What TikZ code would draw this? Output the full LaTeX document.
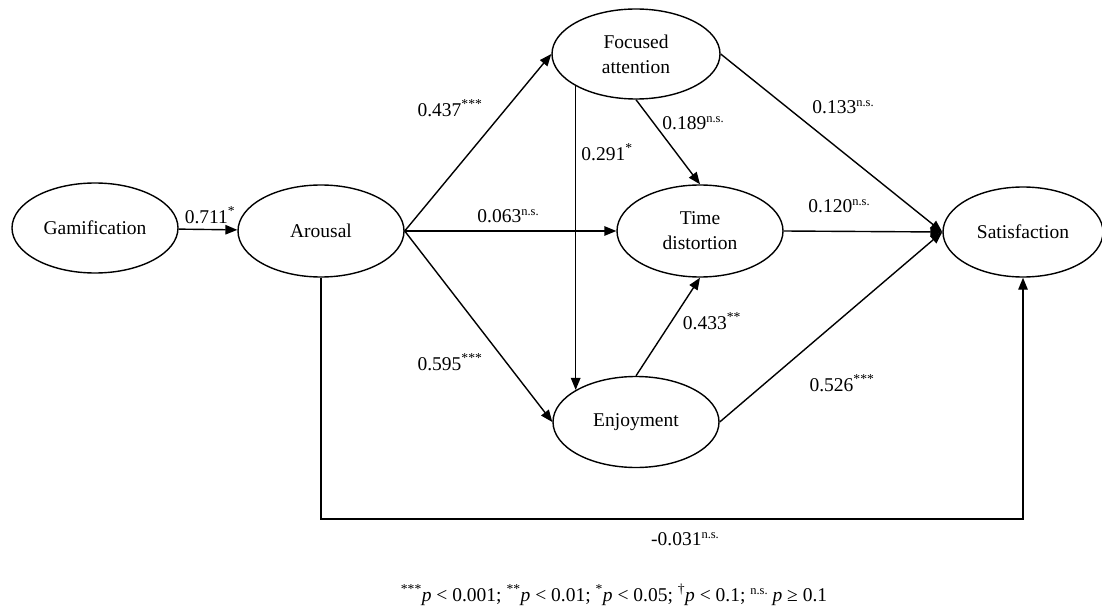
\documentclass[tikz,border=0pt]{standalone}
\usepackage{fontspec}
\setmainfont{Liberation Serif}
\usetikzlibrary{arrows.meta,shapes.geometric}
\newcommand{\nsup}{\raisebox{6.5pt}{\fontsize{12.5}{14}\selectfont n.s.}}
\begin{document}
\begin{tikzpicture}[x=1pt,y=1pt,
  latent/.style={ellipse,draw,line width=1.4pt,inner sep=0pt,align=center,font=\fontsize{19.5}{25}\selectfont},
  pathline/.style={line width=1.4pt,-{Triangle[length=12pt,width=9.5pt]}},
  lab/.style={inner sep=0pt,font=\fontsize{19.5}{24}\selectfont},
  note/.style={inner sep=0pt,anchor=base,font=\fontsize{19.5}{24}\selectfont}]
\useasboundingbox (0,0) rectangle (1102,-612);
\node[latent,minimum width=166,minimum height=90] (gam) at (95,-228) {Gamification};
\node[latent,minimum width=166,minimum height=92] (aro) at (321,-231) {Arousal};
\node[latent,minimum width=168,minimum height=90] (foc) at (636,-54) {Focused\\attention};
\node[latent,minimum width=166,minimum height=92] (tim) at (700,-231) {Time\\distortion};
\node[latent,minimum width=166,minimum height=91] (enj) at (636,-422) {Enjoyment};
\node[latent,minimum width=160,minimum height=90] (sat) at (1023,-232) {Satisfaction};
\coordinate (bot) at (0,-519);

\draw[pathline] (gam) -- (aro);
\draw[pathline] (aro.east) -- (foc.west);
\draw[pathline] (aro.east) -- (tim.west);
\draw[pathline] (aro.east) -- (enj.west);
\draw[pathline] (foc.208.5) -- (foc.208.5 |- enj.152);
\draw[pathline] (foc.south) -- (tim.north);
\draw[pathline] (enj.north) -- (tim.south);
\draw[pathline] (foc.east) -- (sat.west);
\draw[pathline] (tim.east) -- (sat.west);
\draw[pathline] (enj.east) -- (sat.west);
\draw[pathline] (aro.south) -- (aro.south |- bot) -| (sat.south);

\node[lab] (l1) at (210,-215) {0.711\textsuperscript{*}};
\node[lab] (l2) at (450,-108) {0.437\textsuperscript{***}};
\node[lab] (l3) at (607,-152) {0.291\textsuperscript{*}};
\node[lab] (l4) at (693,-123) {0.189\nsup};
\node[lab] (l5) at (843,-107) {0.133\nsup};
\node[lab] (l6) at (508,-216) {0.063\nsup};
\node[lab] (l7) at (839,-206) {0.120\nsup};
\node[lab] (l8) at (712,-321) {0.433\textsuperscript{**}};
\node[lab] (l9) at (450,-362) {0.595\textsuperscript{***}};
\node[lab] (l10) at (842,-383) {0.526\textsuperscript{***}};
\node[lab] (l11) at (685,-539) {-0.031\nsup};
\node[note] (fn) at (614,-601) {\textsuperscript{***}\textit{p} < 0.001; \textsuperscript{**}\textit{p} < 0.01; \textsuperscript{*}\textit{p} < 0.05; \textsuperscript{†}\textit{p} < 0.1; \nsup{} \textit{p} ≥ 0.1};
\end{tikzpicture}
\end{document}
